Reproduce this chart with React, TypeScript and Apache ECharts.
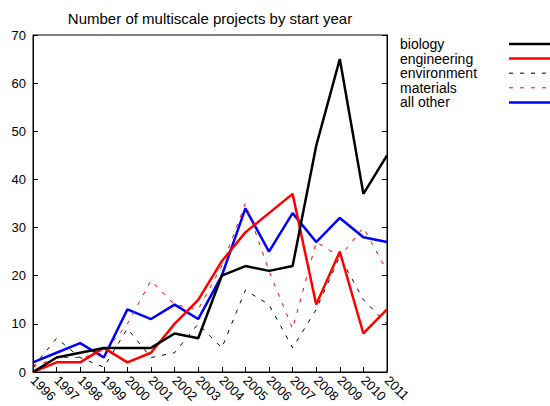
import React, { useEffect, useRef } from "react";
import * as echarts from "echarts";

const years = ["1996","1997","1998","1999","2000","2001","2002","2003","2004","2005","2006","2007","2008","2009","2010","2011"];
const biology =     [0, 3, 4, 5, 5, 5, 8, 7, 20, 22, 21, 22, 47, 65, 37, 45];
const engineering = [0, 2, 2, 5, 2, 4, 10, 15, 23, 29, 33, 37, 14, 25, 8, 13];
const environment = [1, 7, 3, 1, 9, 3, 4, 10, 5, 17, 14, 5, 13, 24, 15, 10];
const materials =   [1, 3, 3, 4, 10, 19, 14, 13, 22, 35, 21, 9, 27, 24, 30, 21];
const allOther =    [2, 4, 6, 3, 13, 11, 14, 11, 20, 34, 25, 33, 27, 32, 28, 27];
const seriesNames = ["biology", "engineering", "environment", "materials", "all other"];
const title = "Number of multiscale projects by start year";

const FONT = "'Liberation Sans', Arial, sans-serif";

export default function App() {
  const ref = useRef<HTMLDivElement>(null);
  useEffect(() => {
    if (!ref.current) return;
    const chart = echarts.init(ref.current, null, { renderer: "svg" });
    const styles = [
      { color: "#000000", width: 2.5, type: "solid" as any },
      { color: "#ff0000", width: 2.5, type: "solid" as any },
      { color: "#000000", width: 1, type: [4, 7] as any },
      { color: "#ff0000", width: 1, type: [4, 7] as any },
      { color: "#0000ff", width: 2.5, type: "solid" as any },
    ];
    const datas = [biology, engineering, environment, materials, allOther];
    const legendY0 = 44;
    const legendStep = 14.6;
    const graphics: any[] = [];
    seriesNames.forEach((n, i) => {
      const y = legendY0 + i * legendStep;
      graphics.push({
        type: "text",
        x: 400,
        y: y,
        style: { text: n, font: `14px ${FONT}`, fill: "#000", verticalAlign: "middle", align: "left" },
      });
      graphics.push({
        type: "line",
        shape: { x1: 509, y1: y, x2: 550, y2: y },
        style: { stroke: styles[i].color, lineWidth: styles[i].width, lineDash: Array.isArray(styles[i].type) ? styles[i].type : null },
      });
    });
    chart.setOption({
      animation: false,
      title: {
        text: title,
        left: 205,
        textAlign: "center",
        top: 6,
        textStyle: { fontFamily: FONT, fontSize: 15, fontWeight: "normal", color: "#000" },
      },
      grid: {
        left: 33, right: 163, top: 35, bottom: 34,
        show: true, borderColor: "#000", borderWidth: 1, backgroundColor: "transparent",
      },
      xAxis: {
        type: "category",
        data: years,
        boundaryGap: false,
        axisLine: { lineStyle: { color: "#000", width: 1 } },
        axisTick: { inside: true, length: 5, interval: 0, lineStyle: { color: "#000" } },
        axisLabel: { interval: 0, rotate: -45, fontFamily: FONT, fontSize: 13, color: "#000", margin: 6 },
        splitLine: { show: false },
      },
      yAxis: [
        {
          type: "value", min: 0, max: 70, interval: 10,
          axisLine: { show: true, lineStyle: { color: "#000" } },
          axisTick: { show: true, inside: true, length: 5, lineStyle: { color: "#000" } },
          axisLabel: { fontFamily: FONT, fontSize: 13, color: "#000", margin: 7 },
          splitLine: { show: false },
        },
        {
          type: "value", min: 0, max: 70, interval: 10, position: "right",
          axisLine: { show: true, lineStyle: { color: "#000" } },
          axisTick: { show: true, inside: true, length: 5, lineStyle: { color: "#000" } },
          axisLabel: { show: false },
          splitLine: { show: false },
        },
      ],
      series: seriesNames.map((n, i) => ({
        name: n,
        type: "line",
        data: datas[i],
        symbol: "none",
        lineStyle: styles[i],
        z: 10 - i,
      })),
      graphic: graphics,
    });
    return () => chart.dispose();
  }, []);
  return <div ref={ref} style={{ width: 550, height: 406, position: "absolute", left: 0, top: 0 }} />;
}
